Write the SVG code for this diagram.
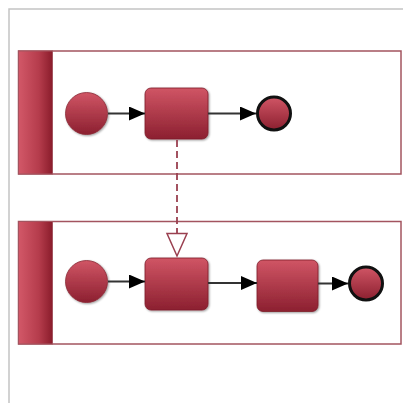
<svg xmlns="http://www.w3.org/2000/svg" width="403" height="403" viewBox="0 0 403 403">
<defs>
<linearGradient id="gFill" x1="0" y1="0" x2="0" y2="1">
<stop offset="0" stop-color="#d05565"/>
<stop offset="1" stop-color="#8c2030"/>
</linearGradient>
<linearGradient id="gBand" x1="0" y1="0" x2="1" y2="0">
<stop offset="0" stop-color="#d25868"/>
<stop offset="0.6" stop-color="#b53c4c"/>
<stop offset="1" stop-color="#8a1c2b"/>
</linearGradient>
<marker id="arrow" markerWidth="16" markerHeight="14" refX="16" refY="7" orient="auto" markerUnits="userSpaceOnUse">
<path d="M0,0 L16,7 L0,14 Z" fill="#000"/>
</marker>
<filter id="shadow" x="-20%" y="-20%" width="140%" height="140%">
<feGaussianBlur in="SourceAlpha" stdDeviation="1"/>
<feOffset dx="0.5" dy="1" result="b"/>
<feComponentTransfer><feFuncA type="linear" slope="0.4"/></feComponentTransfer>
<feMerge><feMergeNode/><feMergeNode in="SourceGraphic"/></feMerge>
</filter>
</defs>
<style>
.frame{fill:none;stroke:#c4c4c4;stroke-width:1.5}
.pool{fill:#fff;stroke:#a3545f;stroke-width:1.5}
.band{fill:url(#gBand);stroke:#a3545f;stroke-width:1}
.start{fill:url(#gFill);stroke:#8a2a36;stroke-width:0.8;filter:url(#shadow)}
.task{fill:url(#gFill);stroke:#7e1c2a;stroke-width:0.8;filter:url(#shadow)}
.end{fill:url(#gFill);stroke:#111;stroke-width:3}
.flow{fill:none;stroke:#333;stroke-width:2;marker-end:url(#arrow)}
.msg{fill:none;stroke:#9a4050;stroke-width:1.8;stroke-dasharray:7,4}
.msgHead{fill:#fff;stroke:#9a4050;stroke-width:1.5}
</style>
<path class="frame" d="M9,403 L9,9 L403,9"/>
<g id="pool1">
<rect class="pool" x="18.5" y="51" width="382.5" height="123"/>
<rect class="band" x="18.5" y="51" width="34" height="123"/>
</g>
<g id="pool2">
<rect class="pool" x="18.5" y="221.5" width="382.5" height="122.5"/>
<rect class="band" x="18.5" y="221.5" width="34" height="122.5"/>
</g>
<g id="start1"><circle class="start" cx="86.5" cy="113.5" r="21"/></g>
<g id="task1"><rect class="task" x="145" y="88" width="63" height="51" rx="6"/></g>
<g id="end1"><circle class="end" cx="274" cy="113.5" r="16.5"/></g>
<g id="start2"><circle class="start" cx="86.5" cy="281.5" r="21"/></g>
<g id="task2"><rect class="task" x="145" y="258" width="63" height="52" rx="6"/></g>
<g id="task3"><rect class="task" x="257" y="260" width="61" height="51.5" rx="6"/></g>
<g id="end2"><circle class="end" cx="366" cy="283.5" r="16.5"/></g>
<g id="connectors">
<line class="flow" x1="108" y1="113.5" x2="145" y2="113.5"/>
<line class="flow" x1="208" y1="113.5" x2="256" y2="113.5"/>
<line class="flow" x1="108" y1="281.5" x2="145" y2="281.5"/>
<line class="flow" x1="208" y1="283" x2="257" y2="283"/>
<line class="flow" x1="318" y1="283.5" x2="348" y2="283.5"/>
<line class="msg" x1="177" y1="140" x2="177" y2="233"/>
<path class="msgHead" d="M167,233.5 L187,233.5 L177,256 Z"/>
</g>
</svg>
